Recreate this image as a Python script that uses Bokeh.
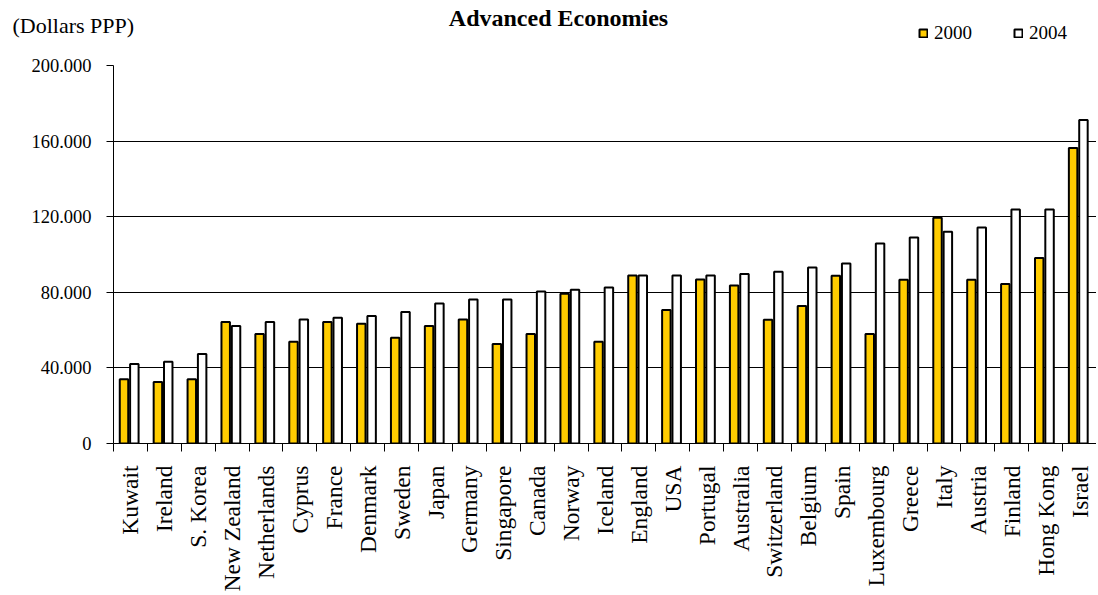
import math
import numpy as np
from bokeh.plotting import figure
from bokeh.layouts import column
from bokeh.models import (Range1d, FixedTicker, Legend, LegendItem, Label, ColumnDataSource)
from bokeh.embed import file_html
from bokeh.resources import INLINE

countries = ["Kuwait", "Ireland", "S. Korea", "New Zealand", "Netherlands", "Cyprus",
             "France", "Denmark", "Sweden", "Japan", "Germany", "Singapore", "Canada",
             "Norway", "Iceland", "England", "USA", "Portugal", "Australia", "Switzerland",
             "Belgium", "Spain", "Luxembourg", "Greece", "Italy", "Austria", "Finland",
             "Hong Kong", "Israel"]
values_2000 = [34000, 32600, 34000, 64300, 58000, 53800, 64300, 63300, 55900, 62200,
               65600, 52700, 58000, 79200, 53800, 88900, 70700, 86800, 83600, 65500,
               72800, 88700, 58000, 86600, 119400, 86600, 84400, 98200, 156400]
values_2004 = [42100, 43200, 47400, 62200, 64300, 65600, 66500, 67500, 69600, 74100,
               76200, 76200, 80400, 81300, 82500, 88900, 88900, 88900, 89700, 90900,
               93100, 95200, 105800, 109000, 112000, 114300, 123800, 123800, 171200]
y_ticks = [0, 40000, 80000, 120000, 160000, 200000]
y_tick_labels = ["0", "40.000", "80.000", "120.000", "160.000", "200.000"]
series_names = ["2000", "2004"]

FONT = "Liberation Serif"
YELLOW = "#FFCC00"
W = 1096
HEAD_H = 45
BAR_W = 0.25
BAR_LW = 2

n = len(countries)
idx = np.arange(n)
src = ColumnDataSource(dict(x0=idx + 0.31, x1=idx + 0.615, v0=values_2000, v1=values_2004))

# ---- header strip: unit text, title and legend ----
# its bar renderers are hidden and out of range: they only feed the legend swatches
head = figure(width=W, height=HEAD_H, output_backend="svg", toolbar_location=None,
              x_axis_type=None, y_axis_type=None,
              x_range=Range1d(-2, -1), y_range=Range1d(0, 1),
              min_border=0, min_border_left=0, min_border_right=0,
              min_border_top=0, min_border_bottom=0)
head.outline_line_color = None
head.background_fill_color = "white"

lr0 = head.vbar(x="x0", top="v0", width=BAR_W, source=src,
                fill_color=YELLOW, line_color="black", line_width=BAR_LW)
lr1 = head.vbar(x="x1", top="v1", width=BAR_W, source=src,
                fill_color="white", line_color="black", line_width=BAR_LW)
lr0.visible = False
lr1.visible = False

legend = Legend(items=[LegendItem(label=series_names[0], renderers=[lr0], index=0),
                       LegendItem(label=series_names[1], renderers=[lr1], index=0)],
                orientation="horizontal", location=(918, 1),
                glyph_width=10, glyph_height=10, label_standoff=6, spacing=41,
                padding=0, margin=0, border_line_color=None, background_fill_alpha=0,
                inactive_fill_alpha=0,
                label_text_font=FONT, label_text_font_size="19px", label_height=20,
                label_text_color="black")
head.add_layout(legend, "center")

head.add_layout(Label(x=558, y=HEAD_H - 17, x_units="screen", y_units="screen",
                      text="Advanced Economies", text_align="center", text_baseline="middle",
                      text_font=FONT, text_font_size="24px", text_font_style="bold",
                      text_color="black"))
head.add_layout(Label(x=12, y=HEAD_H - 25, x_units="screen", y_units="screen",
                      text="(Dollars PPP)", text_align="left", text_baseline="middle",
                      text_font=FONT, text_font_size="22px", text_color="black"))

# ---- main chart ----
p = figure(width=W, height=549, output_backend="svg", toolbar_location=None,
           x_range=Range1d(0, n), y_range=Range1d(0, 200000),
           min_border_left=113, min_border_right=0, min_border_top=20, min_border_bottom=151)
p.outline_line_color = None
p.background_fill_color = "white"

p.vbar(x="x0", top="v0", width=BAR_W, bottom=0, source=src,
       fill_color=YELLOW, line_color="black", line_width=BAR_LW)
p.vbar(x="x1", top="v1", width=BAR_W, bottom=0, source=src,
       fill_color="white", line_color="black", line_width=BAR_LW)

p.yaxis.ticker = FixedTicker(ticks=y_ticks)
p.yaxis.major_label_overrides = {t: l for t, l in zip(y_ticks, y_tick_labels)}
p.yaxis.major_label_text_font = FONT
p.yaxis.major_label_text_font_size = "18.5px"
p.yaxis.major_label_text_color = "black"
p.yaxis.axis_line_color = "black"
p.yaxis.major_tick_line_color = "black"
p.yaxis.major_tick_out = 7
p.yaxis.major_tick_in = 0
p.yaxis.minor_tick_line_color = None
p.yaxis.major_label_standoff = 15

p.ygrid.ticker = FixedTicker(ticks=y_ticks)
p.ygrid.grid_line_color = "black"
p.ygrid.grid_line_width = 1
p.xgrid.grid_line_color = None

p.xaxis.ticker = FixedTicker(ticks=[i + 0.5 for i in range(n)],
                             minor_ticks=list(range(n + 1)))
p.xaxis.major_label_overrides = {i + 0.5: c for i, c in enumerate(countries)}
p.xaxis.major_label_orientation = math.pi / 2
p.xaxis.major_label_text_font = FONT
p.xaxis.major_label_text_font_size = "23.5px"
p.xaxis.major_label_text_color = "black"
p.xaxis.major_tick_line_color = None
p.xaxis.minor_tick_line_color = "black"
p.xaxis.minor_tick_out = 8
p.xaxis.minor_tick_in = 0
p.xaxis.axis_line_color = "black"
p.xaxis.major_label_standoff = 14

# keep the header's frame independent of the chart's frame
for fig in (head, p):
    if "frame_align" in fig.properties():
        fig.frame_align = False

layout = column(head, p, spacing=0)
open("out.html", "w").write(file_html(layout, INLINE))
